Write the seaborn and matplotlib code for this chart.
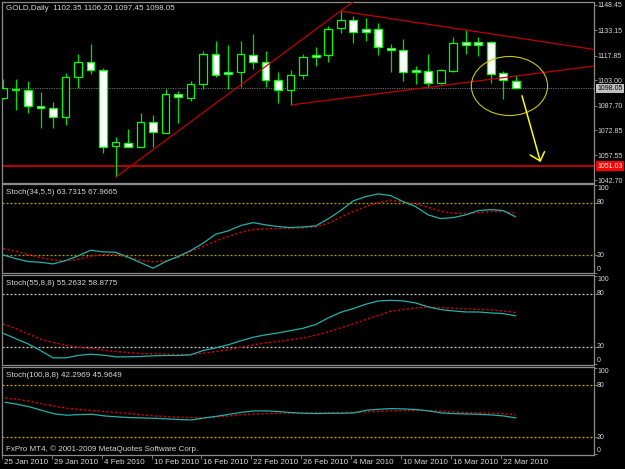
import matplotlib
matplotlib.use("Agg")
import matplotlib.pyplot as plt
import matplotlib.transforms as mtransforms
from matplotlib.patches import Ellipse
import seaborn as sns
import pandas as pd
import numpy as np

# ---------------- data ----------------
symbol_title = "GOLD,Daily  1102.35 1106.20 1097.45 1098.05"
date_labels = ["25 Jan 2010", "29 Jan 2010", "4 Feb 2010", "10 Feb 2010", "16 Feb 2010",
               "22 Feb 2010", "26 Feb 2010", "4 Mar 2010", "10 Mar 2010", "16 Mar 2010",
               "22 Mar 2010"]
date_label_bars = [0, 4, 8, 12, 16, 20, 24, 28, 32, 36, 40]

opens = [1092.07, 1097.90, 1097.08, 1087.62, 1086.21, 1080.57, 1104.74, 1114.00, 1109.37, 1063.06,
         1065.20, 1062.44, 1077.55, 1071.30, 1094.47, 1092.45, 1100.51, 1118.84, 1108.16, 1107.76,
         1118.44, 1114.00, 1103.13, 1096.88, 1105.95, 1118.23, 1118.23, 1134.35, 1139.38, 1133.74,
         1133.74, 1122.67, 1121.26, 1109.17, 1108.77, 1101.11, 1108.57, 1125.89, 1125.89, 1125.89,
         1107.56, 1102.35]
highs = [1103.70, 1103.50, 1102.52, 1095.88, 1090.03, 1107.56, 1118.64, 1125.08, 1110.58, 1068.80,
         1073.30, 1082.98, 1081.98, 1097.69, 1096.68, 1102.52, 1120.65, 1126.90, 1124.28, 1126.90,
         1130.92, 1120.65, 1108.16, 1109.17, 1118.84, 1123.27, 1135.76, 1144.82, 1141.80, 1140.39,
         1137.37, 1124.68, 1127.70, 1111.59, 1118.64, 1109.57, 1128.91, 1133.34, 1128.91, 1126.69,
         1108.77, 1106.20]
lows = [1091.50, 1085.00, 1082.98, 1073.92, 1074.32, 1075.93, 1098.09, 1106.75, 1059.22, 1044.31,
        1062.44, 1062.44, 1062.84, 1071.30, 1077.35, 1090.44, 1097.49, 1104.74, 1097.49, 1098.70,
        1109.57, 1098.70, 1089.43, 1088.02, 1103.53, 1111.59, 1114.21, 1131.73, 1125.28, 1126.90,
        1118.23, 1107.76, 1102.52, 1100.71, 1098.70, 1100.71, 1107.96, 1118.84, 1117.83, 1101.11,
        1091.64, 1097.45]
closes = [1098.10, 1096.90, 1087.42, 1086.01, 1080.57, 1105.14, 1114.00, 1109.17, 1062.84, 1065.48,
          1062.80, 1077.55, 1071.50, 1094.67, 1092.65, 1100.51, 1118.84, 1106.35, 1106.75, 1118.84,
          1114.00, 1103.13, 1097.08, 1105.95, 1116.82, 1117.23, 1133.74, 1139.38, 1131.93, 1131.93,
          1123.27, 1121.26, 1107.96, 1107.96, 1101.11, 1109.17, 1125.28, 1124.48, 1124.08, 1106.75,
          1103.13, 1098.05]

price_ticks = [1148.45, 1133.15, 1117.85, 1103.00, 1087.70, 1072.85, 1057.55, 1042.70]
bid_price = 1098.05
support_price = 1051.03

# trendline anchors (bar index, price)
trend_up = [(9, 1044.31), (27, 1144.82)]
trend_down = [(27, 1144.82), (37, 1133.34)]
trend_low = [(23, 1088.02), (34, 1098.70)]
# annotation: ellipse (centre bar, centre price, width bars, height price), arrow
ellipse_spec = (40.5, 1099.5, 6.1, 35.7)
arrow_start = (41.5, 1093.6)
arrow_end = (42.96, 1054.2)
arrow_wing1 = (42.16, 1057.8)
arrow_wing2 = (43.3, 1059.8)

stoch1_label = "Stoch(34,5,5) 63.7315 67.9665"
stoch1_main = [20.4, 16.2, 12.8, 12.0, 10.1, 13.9, 19.2, 25.7, 23.8, 23.4, 17.7, 11.6, 5.2, 12.8,
               18.5, 25.3, 33.7, 43.9, 47.7, 53.8, 57.2, 54.6, 52.7, 51.5, 52.3, 53.4, 61.4, 70.9,
               81.9, 86.8, 89.9, 88.0, 81.1, 75.4, 66.0, 61.8, 62.9, 66.0, 70.9, 72.0, 70.9, 63.73]
stoch1_signal = [27.6, 24.6, 20.8, 17.3, 14.7, 13.5, 15.4, 18.9, 20.8, 21.1, 17.7, 14.3, 12.4, 13.5,
                 17.7, 24.2, 29.9, 36.0, 41.3, 46.2, 49.2, 50.0, 50.4, 50.8, 51.1, 52.3, 56.5, 63.3,
                 69.8, 75.4, 80.0, 82.7, 80.8, 78.5, 74.7, 70.1, 67.9, 67.5, 68.6, 69.8, 69.8, 67.97]

stoch2_label = "Stoch(55,8,8) 55.2632 58.8775"
stoch2_main = [35.5, 29.4, 23.4, 15.8, 7.5, 7.5, 10.2, 11.7, 10.6, 8.7, 8.7, 9.1, 9.8, 10.2,
               10.2, 10.9, 15.8, 18.9, 22.3, 26.8, 30.9, 33.6, 35.8, 38.5, 41.1, 45.3, 52.8, 59.2,
               63.4, 68.3, 72.1, 72.8, 72.1, 69.8, 65.3, 62.3, 60.8, 59.6, 59.6, 58.5, 57.7, 55.26]
stoch2_signal = [46.0, 40.8, 34.7, 28.7, 24.9, 21.9, 19.6, 18.5, 16.2, 14.7, 13.6, 12.5, 12.1, 11.7,
                 11.3, 11.3, 12.8, 14.7, 16.6, 19.6, 22.3, 24.5, 26.0, 27.9, 30.2, 33.2, 37.0, 41.5,
                 46.0, 50.9, 55.5, 60.4, 62.3, 64.2, 65.3, 64.5, 63.8, 63.0, 62.6, 61.9, 60.8, 58.88]

stoch3_label = "Stoch(100,8,8) 42.2969 45.9649"
stoch3_main = [60.4, 58.1, 55.0, 50.8, 46.9, 45.4, 46.2, 46.5, 44.6, 43.5, 42.7, 42.3, 41.9, 41.2,
               40.4, 40.0, 42.3, 44.2, 46.5, 48.8, 50.4, 50.4, 49.6, 48.5, 47.7, 47.3, 47.7, 47.7,
               48.1, 51.2, 52.3, 53.1, 52.7, 51.9, 50.4, 48.1, 47.3, 46.9, 46.5, 45.8, 44.6, 42.30]
stoch3_signal = [65.4, 63.8, 61.5, 58.5, 55.8, 53.5, 51.9, 50.8, 49.6, 48.5, 47.3, 45.8, 44.6, 43.8,
                 43.1, 42.7, 42.3, 43.5, 44.6, 46.2, 46.9, 47.3, 47.7, 47.7, 47.7, 48.1, 48.1, 48.5,
                 48.8, 49.2, 50.0, 50.4, 50.8, 51.2, 50.8, 50.0, 49.2, 48.5, 48.1, 47.7, 47.3, 45.96]
stoch_levels = [20, 80]
stoch_axis_labels = [100, 80, 20, 0]
copyright_text = "FxPro MT4, \u00a9 2001-2009 MetaQuotes Software Corp."

# ---------------- style ----------------
sns.set_theme(style="dark", rc={"axes.facecolor": "black", "figure.facecolor": "black",
                                "axes.grid": False})
plt.rcParams['font.family'] = ['Liberation Sans', 'DejaVu Sans']

W, H = 625, 469
FS = 5.8
FS_AX = 5.0
TXT = '#D8D8D8'
FRAME = '#8C8C8C'
fig = plt.figure(figsize=(W / 100, H / 100), dpi=100, facecolor='black')


def px_axes(x0, y0, x1, y1):
    return fig.add_axes([x0 / W, 1 - y1 / H, (x1 - x0) / W, (y1 - y0) / H])


XL = (-0.08, 47.22)
ax_main = px_axes(2, 2, 593.5, 182.7)
ax_s1 = px_axes(2, 184, 593.5, 273.3)
ax_s2 = px_axes(2, 275.3, 593.5, 365)
ax_s3 = px_axes(2, 367, 593.5, 455)

for ax in (ax_main, ax_s1, ax_s2, ax_s3):
    ax.set_facecolor('black')
    ax.set_xlim(*XL)
    for sp in ax.spines.values():
        sp.set_visible(True)
        sp.set_color(FRAME)
        sp.set_linewidth(0.9)
    ax.tick_params(axis='x', bottom=False, labelbottom=False)
    ax.yaxis.tick_right()
    ax.tick_params(axis='y', right=True, left=False, length=2, width=0.6, color=FRAME,
                   labelsize=FS_AX, labelcolor=TXT, pad=1.2)

# ---------------- main price panel ----------------
n = len(opens)
idx = np.arange(n)
df = pd.DataFrame({"i": idx, "open": opens, "high": highs, "low": lows, "close": closes})
ax_main.set_ylim(1041.07, 1150.26)

lime = '#00FF00'
ax_main.vlines(df["i"], df["low"], df["high"], color='#00E000', linewidth=0.9, zorder=3)
body_bottom = np.minimum(df["open"], df["close"])
body_height = np.maximum(np.abs(df["close"] - df["open"]), 0.5)
fills = ['white' if c < o else 'black' for o, c in zip(opens, closes)]
ax_main.bar(df["i"], body_height, bottom=body_bottom, width=0.62, color=fills,
            edgecolor=lime, linewidth=0.9, zorder=4)

ax_main.set_yticks(price_ticks)
ax_main.set_yticklabels([f"{p:.2f}" for p in price_ticks])

# bid line and support line
ax_main.axhline(bid_price, color='#6E6E6E', linewidth=0.7, linestyle=(0, (1.2, 1.2)), zorder=1)
ax_main.axhline(support_price, color='#B40000', linewidth=1.5, zorder=2)


def ray(ax, p0, p1, **kw):
    (x0, y0), (x1, y1) = p0, p1
    slope = (y1 - y0) / (x1 - x0)
    xe = XL[1]
    ax.plot([x0, xe], [y0, y0 + slope * (xe - x0)], **kw)


for tl in (trend_up, trend_down, trend_low):
    ray(ax_main, tl[0], tl[1], color='#C00000', linewidth=0.9, zorder=5, solid_capstyle='butt')

ex, ey, ew, eh = ellipse_spec
ax_main.add_patch(Ellipse((ex, ey), ew, eh, fill=False, edgecolor='#C8C800', linewidth=0.8,
                          zorder=6))
yel = '#FFFF00'
ax_main.plot([arrow_start[0], arrow_end[0]], [arrow_start[1], arrow_end[1]], color=yel,
             linewidth=1.1, zorder=6)
ax_main.plot([arrow_wing1[0], arrow_end[0], arrow_wing2[0]],
             [arrow_wing1[1], arrow_end[1], arrow_wing2[1]], color=yel, linewidth=1.1, zorder=6)

blend_main = mtransforms.blended_transform_factory(ax_main.transAxes, ax_main.transData)
ax_main.text(1.0 + 3.5 / 591.5, bid_price, f"{bid_price:.2f}", transform=blend_main,
             ha='left', va='center', fontsize=FS_AX, color='black', clip_on=False, zorder=10,
             bbox=dict(boxstyle='square,pad=0.2', fc='#C0C0C0', ec='none'))
ax_main.text(1.0 + 3.5 / 591.5, support_price, f"{support_price:.2f}", transform=blend_main,
             ha='left', va='center', fontsize=FS_AX, color='white', clip_on=False, zorder=10,
             bbox=dict(boxstyle='square,pad=0.2', fc='#FF0000', ec='none'))

fig.text(6 / W, 1 - 8 / H, symbol_title, color=TXT, fontsize=FS, ha='left', va='center')

# ---------------- stochastic panels ----------------
panels = [
    (ax_s1, stoch1_main, stoch1_signal, stoch1_label, '#A8A800'),
    (ax_s2, stoch2_main, stoch2_signal, stoch2_label, '#C8C8C8'),
    (ax_s3, stoch3_main, stoch3_signal, stoch3_label, '#D0A800'),
]
for ax, main, sig, label, lvl_col in panels:
    ax.set_ylim(-0.6, 101.2)
    ax.set_yticks(stoch_axis_labels)
    ax.set_yticklabels([])
    for lv in stoch_levels:
        ax.axhline(lv, color=lvl_col, linewidth=0.9, linestyle=(0, (1.6, 1.6)), zorder=1)
    sdf = pd.DataFrame({"i": idx, "main": main, "signal": sig})
    sns.lineplot(data=sdf, x="i", y="signal", ax=ax, color='#E00000', linewidth=1.0,
                 linestyle=(0, (1.6, 1.6)), zorder=3)
    sns.lineplot(data=sdf, x="i", y="main", ax=ax, color='#20B2AA', linewidth=0.9, zorder=4)
    ax.set_xlabel("")
    ax.set_ylabel("")
    ax.set_xlim(*XL)
    blend = mtransforms.blended_transform_factory(ax.transAxes, ax.transData)
    for v in stoch_axis_labels:
        va = 'top' if v == 100 else ('bottom' if v == 0 else 'center')
        ax.text(1.0 + 3.5 / 591.5, v, str(v), transform=blend, ha='left', va=va,
                fontsize=FS_AX, color=TXT, clip_on=False)
    ax.text(4 / 591.5, 1 - 8 / ax.bbox.height, label, transform=ax.transAxes,
            ha='left', va='center', fontsize=FS, color=TXT)

fig.text(6 / W, 1 - 449 / H, copyright_text, color=TXT, fontsize=FS, ha='left', va='center')

# date axis
ax_s3.set_xticks([b - 0.24 for b in date_label_bars])
ax_s3.tick_params(axis='x', bottom=True, labelbottom=False, length=3, width=0.6,
                  color=FRAME, direction='out')
blend_x = mtransforms.blended_transform_factory(ax_s3.transData, fig.transFigure)
for b, lab in zip(date_label_bars, date_labels):
    ax_s3.text(b - 0.08, 1 - 462.5 / H, lab, transform=blend_x, ha='left', va='center',
               fontsize=FS, color=TXT, clip_on=False)

fig.savefig("out.png", dpi=100, facecolor='black')
